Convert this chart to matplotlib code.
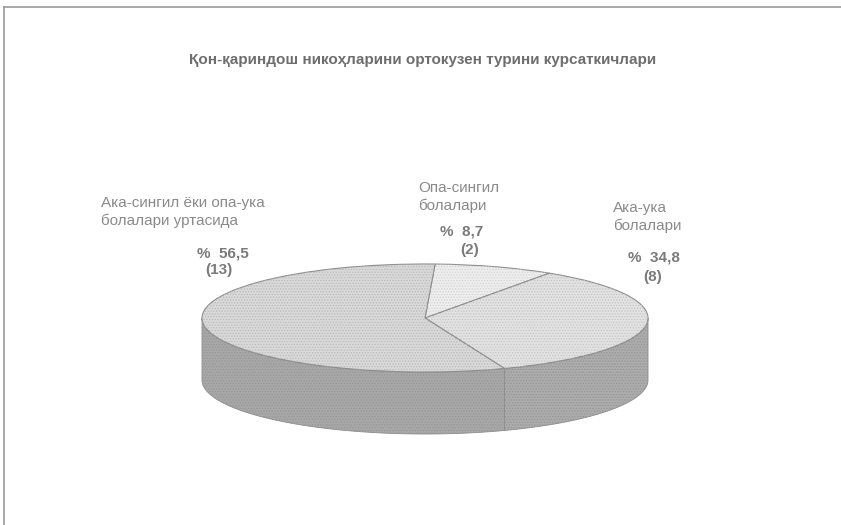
import numpy as np
import matplotlib
matplotlib.use("Agg")
import matplotlib.pyplot as plt
from matplotlib.patches import Wedge, Polygon
from matplotlib.transforms import Affine2D

plt.rcParams['font.family'] = ['Liberation Sans', 'DejaVu Sans']
plt.rcParams['hatch.linewidth'] = 0.6

title = "Қон-қариндош никоҳларини ортокузен турини курсаткичлари"
names = ["Опа-сингил\nболалари", "Ака-ука\nболалари", "Ака-сингил ёки опа-ука\nболалари уртасида"]
counts = [2, 8, 13]

top_colors = ["#eeeeee", "#e2e2e2", "#d9d9d9"]
side_colors = ["#b0b0b0", "#acacac", "#a8a8a8"]
hatch_colors = ["#d2d2d2", "#c4c4c4", "#bababa"]

fig = plt.figure(figsize=(8.41, 5.25), dpi=100)
ax = fig.add_axes([0, 0, 1, 1])
ax.set_xlim(0, 841)
ax.set_ylim(525, 0)
ax.axis("off")

# page frame: top and left edges only
ax.plot([4, 841], [7, 7], color="#9a9a9a", lw=1.2)
ax.plot([4, 4], [7, 525], color="#9a9a9a", lw=1.2)

cx, cy, rx, ry, depth = 425, 318, 223, 54, 62
start = 87.4

vals = np.array(counts, dtype=float)
pct = vals / vals.sum() * 100
spans = vals / vals.sum() * 360
ends = start - np.cumsum(spans)
starts = ends + spans

to_screen = Affine2D().scale(rx, -ry).translate(cx, cy) + ax.transData

# side wall, only the front half (angles between -180 and 0) is visible
for a0, a1, sc in zip(starts, ends, side_colors):
    for shift in (0, -360):
        l, h = max(a1 - shift, -180), min(a0 - shift, 0)
        if h <= l:
            continue
        t = np.radians(np.linspace(l, h, 80))
        xs = cx + rx * np.cos(t)
        ys = cy - ry * np.sin(t)
        pts = np.column_stack([np.r_[xs, xs[::-1]], np.r_[ys, ys[::-1] + depth]])
        ax.add_patch(Polygon(pts, closed=True, facecolor=sc, edgecolor="#8c8c8c", lw=0.6))
        ax.add_patch(Polygon(pts, closed=True, facecolor="none", edgecolor="#959595",
                             hatch="......", lw=0))

# top face
for a0, a1, tc, hc in zip(starts, ends, top_colors, hatch_colors):
    ax.add_patch(Wedge((0, 0), 1, a1, a0, transform=to_screen, facecolor=tc,
                       edgecolor="#8c8c8c", lw=0.8))
    ax.add_patch(Wedge((0, 0), 1, a1, a0, transform=to_screen, facecolor="none",
                       edgecolor=hc, hatch="......", lw=0))

ax.text(423, 60, title, ha="center", va="center", fontsize=11,
        fontweight="bold", color="#6e6e6e")

name_pos = [(418, 197), (613, 217), (101, 212)]
pct_pos = [(462, 231), (654, 257), (223, 254)]
cnt_pos = [(470, 250), (653, 277), (219, 270)]
for name, c, p, (nx, ny), (px, py), (qx, qy) in zip(names, counts, pct, name_pos,
                                                    pct_pos, cnt_pos):
    ax.text(nx, ny, name, ha="left", va="center", fontsize=11, color="#8a8a8a",
            linespacing=1.25)
    ax.text(px, py, "%  " + f"{p:.1f}".replace(".", ","), ha="center", va="center",
            fontsize=11, fontweight="bold", color="#7a7a7a")
    ax.text(qx, qy, f"({c})", ha="center", va="center",
            fontsize=11, fontweight="bold", color="#7a7a7a")

fig.savefig("out.png", dpi=100)
